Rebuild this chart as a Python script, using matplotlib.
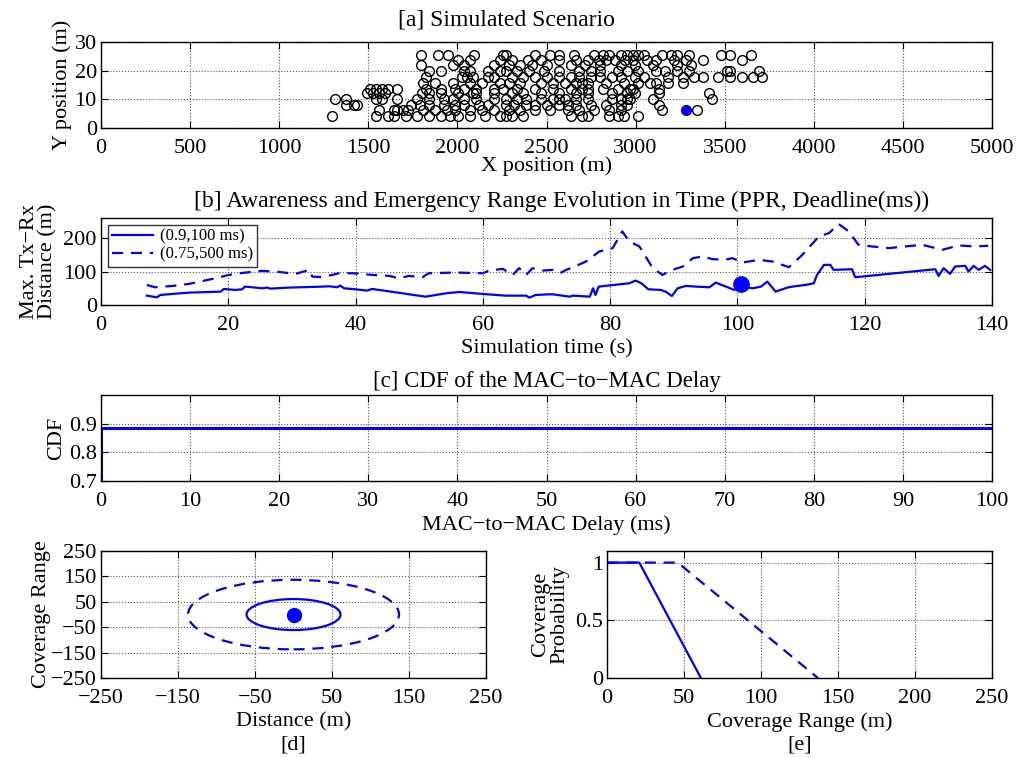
import matplotlib.pyplot as plt

plt.rcParams['font.family'] = ['Liberation Serif', 'DejaVu Serif']
plt.rcParams['font.size'] = 16
plt.rcParams['axes.linewidth'] = 1.0
plt.rcParams['xtick.direction'] = 'in'
plt.rcParams['ytick.direction'] = 'in'
plt.rcParams['xtick.top'] = True
plt.rcParams['ytick.right'] = True
plt.rcParams['xtick.major.size'] = 5
plt.rcParams['ytick.major.size'] = 5
plt.rcParams['xtick.major.pad'] = 8
plt.rcParams['ytick.major.pad'] = 3

BLUE = '#0000ff'

# [a] vehicle positions, one list of x per lane (y in m)
lane_y = [25.5, 23.6, 22.0, 19.8, 17.9, 15.6, 13.6, 12.1, 10.0, 8.2, 6.2, 4.1]
lane_x = [
    [1798, 1890, 1946, 2095, 2254, 2271, 2436, 2519, 2569, 2652, 2767, 2817, 2850,
     2916, 2949, 2983, 3016, 3049, 3148, 3198, 3231, 3297, 3479, 3529, 3645],
    [2006, 2072, 2238, 2304, 2397, 2469, 2569, 2668, 2734, 2794, 2834, 2883, 2939,
     2983, 3065, 3115, 3214, 3280, 3380, 3595],
    [1798, 1973, 2039, 2205, 2287, 2354, 2420, 2503, 2635, 2718, 2800, 2916, 2999,
     3098, 3231, 3313],
    [1840, 1906, 2039, 2072, 2172, 2238, 2271, 2337, 2403, 2486, 2569, 2685, 2751,
     2800, 2900, 2949, 3016, 3115, 3165, 3231, 3297, 3512, 3529, 3694],
    [1824, 2023, 2056, 2089, 2172, 2205, 2304, 2370, 2436, 2503, 2569, 2635, 2685,
     2751, 2800, 2867, 2916, 2999, 3049, 3181, 3264, 3330, 3380, 3462, 3529, 3595,
     3661, 3711],
    [1807, 1873, 1973, 2072, 2138, 2238, 2287, 2354, 2469, 2536, 2602, 2668, 2701,
     2734, 2834, 2933, 3016, 3082, 3115, 3181, 3264],
    [1510, 1543, 1576, 1609, 1659, 1824, 1906, 1989, 2039, 2105, 2205, 2254, 2337,
     2436, 2536, 2635, 2701, 2734, 2817, 2900, 2966, 2983, 3131],
    [1493, 1526, 1559, 1592, 1801, 1840, 1906, 2006, 2089, 2105, 2205, 2304, 2370,
     2469, 2569, 2668, 2734, 2867, 2949, 2999, 3131, 3413],
    [1311, 1377, 1543, 1576, 1659, 1774, 1840, 1923, 1973, 2039, 2105, 2205, 2271,
     2337, 2387, 2469, 2536, 2569, 2602, 2668, 2734, 2867, 2916, 2949, 2966, 3098,
     3430],
    [1377, 1417, 1437, 1741, 1791, 1840, 1923, 1989, 2039, 2122, 2172, 2271, 2320,
     2387, 2436, 2503, 2569, 2618, 2668, 2751, 2834, 2916, 2949, 3131],
    [1559, 1642, 1659, 1692, 1725, 1807, 1873, 1940, 1989, 2072, 2138, 2205, 2287,
     2354, 2436, 2519, 2618, 2685, 2767, 2850, 2916, 3148, 3347],
    [1294, 1543, 1609, 1642, 1709, 1775, 1840, 1906, 1956, 2006, 2072, 2155, 2238,
     2271, 2304, 2370, 2635, 2701, 2734, 2850, 2900, 2933, 3016],
]
tx_x, tx_y = 3280, 6.2

# [b] max Tx-Rx distance over time
t_09 = [7.2, 8.8, 9.3, 11.2, 13.8, 18.8, 19.3, 21.1, 22.2, 22.6, 24.3, 25.3, 26.1,
        26.6, 29.5, 34.8, 35.9, 37.1, 37.6, 38.2, 40.0, 41.8, 42.6, 43.7, 51.0, 52.6,
        54.2, 56.3, 60.0, 63.6, 66.8, 67.3, 68.3, 70.4, 71.0, 73.6, 74.2, 76.8, 77.3,
        77.7, 78.2, 83.0, 84.0, 84.9, 86.0, 88.0, 88.8, 89.7, 90.6, 91.9, 93.5, 95.6,
        96.6, 98.2, 99.5, 100.5, 102.4, 103.7, 104.7, 106.0, 108.0, 109.4, 110.7,
        112.0, 112.5, 113.6, 114.6, 115.1, 118.0, 118.5, 131.1, 131.6, 132.4, 133.4,
        134.2, 135.8, 136.3, 137.1, 137.9, 138.9, 139.7]
d_09 = [28, 23, 30, 33, 37, 40, 48, 45, 47, 55, 52, 50, 52,
        49, 52, 55, 56, 53, 58, 50, 47, 43, 48, 45, 25, 30,
        35, 39, 33, 28, 28, 22, 30, 32, 32, 25, 28, 25, 50,
        30, 55, 65, 73, 65, 47, 45, 39, 27, 50, 57, 55, 53,
        67, 55, 45, 55, 50, 55, 70, 40, 53, 57, 60,
        65, 90, 120, 120, 105, 107, 83, 107, 87, 110, 93,
        115, 117, 100, 117, 105, 117, 105]
t_075 = [7.2, 8.5, 11.2, 13.8, 18.0, 20.1, 22.7, 25.3, 27.4, 30.6, 32.7, 33.2, 34.8,
         37.4, 39.5, 42.6, 45.3, 46.8, 48.4, 50.5, 51.5, 55.7, 60.0, 61.0, 63.1, 64.7,
         65.7, 66.8, 67.8, 69.4, 71.0, 72.1, 73.1, 74.2, 76.2, 78.3, 80.4, 81.9, 83.0,
         84.6, 86.7, 88.2, 89.8, 91.4, 93.0, 94.5, 96.1, 98.0, 99.2, 100.8, 103.4,
         105.5, 108.1, 110.2, 112.8, 114.4, 115.9, 117.5, 119.0, 121.1, 123.8, 126.4,
         129.0, 132.2, 134.8, 137.3, 139.4]
d_075 = [60, 53, 57, 63, 80, 90, 97, 102, 100, 93, 105, 85, 83,
         95, 95, 90, 87, 80, 87, 83, 95, 97, 95, 103, 108, 90,
         110, 90, 110, 103, 105, 95, 105, 113, 130, 160, 170, 220, 190,
         175, 110, 90, 105, 115, 140, 145, 137, 135, 140, 127, 135,
         130, 113, 150, 205, 215, 242, 220, 180, 175, 170, 175,
         180, 165, 178, 175, 177]
t_dot, d_dot = 100.5, 62

# [c] CDF of MAC-to-MAC delay
delay_ms = [0, 0, 100]
cdf = [0.69, 0.886, 0.886]

# [d] coverage circles (radius in m) and [e] coverage probability
r_09, r_075 = 61, 137
range_09 = [0, 21, 61]
prob_09 = [1, 1, 0]
range_075 = [0, 46, 137]
prob_075 = [1, 1, 0]


def grid(ax):
    ax.grid(True, linestyle=':', color='#555555', linewidth=0.8)
    ax.set_axisbelow(True)


fig = plt.figure(figsize=(10.16, 7.58), dpi=100)

# [a]
ax = fig.add_axes([0.0994, 0.8311, 0.877, 0.1135])
for y, xs in zip(lane_y, lane_x):
    ax.plot(xs, [y] * len(xs), 'o', mfc='none', mec='black', ms=7, mew=1.0)
ax.plot([tx_x], [tx_y], 'o', color=BLUE, ms=7)
ax.set_xlim(0, 5000)
ax.set_ylim(0, 30)
ax.set_xticks(range(0, 5001, 500))
ax.set_yticks([0, 10, 20, 30])
grid(ax)
ax.set_title('[a] Simulated Scenario', fontsize=17, pad=12, x=0.455)
ax.set_xlabel('X position (m)', labelpad=-1)
ax.set_ylabel('Y position (m)', labelpad=2)

# [b]
ax = fig.add_axes([0.0994, 0.5976, 0.877, 0.1148])
ax.plot(t_09, d_09, '-', color=BLUE, lw=1.6, label='(0.9,100 ms)')
ax.plot(t_075, d_075, '--', color=BLUE, lw=1.6, dashes=(5, 3.5), label='(0.75,500 ms)')
ax.plot([t_dot], [d_dot], 'o', color=BLUE, ms=11)
ax.set_xlim(0, 140)
ax.set_ylim(0, 260)
ax.set_xticks(range(0, 141, 20))
ax.set_yticks([0, 100, 200])
grid(ax)
leg = ax.legend(loc='upper left', fontsize=12, handlelength=2.5, handletextpad=0.4,
                frameon=True, fancybox=False, edgecolor='black', borderaxespad=0.4,
                borderpad=0.25, labelspacing=0.1)
leg.get_frame().set_linewidth(1.0)
ax.set_title('[b] Awareness and Emergency Range Evolution in Time (PPR, Deadline(ms))',
             fontsize=17, pad=8, x=0.517)
ax.set_xlabel('Simulation time (s)', labelpad=3)
ax.set_ylabel('Max. Tx\u2212Rx\nDistance (m)', labelpad=4, linespacing=1.0)

# [c]
ax = fig.add_axes([0.0994, 0.3654, 0.877, 0.1135])
ax.plot(delay_ms, cdf, '-', color=BLUE, lw=2.2)
ax.set_xlim(0, 100)
ax.set_ylim(0.7, 1.0)
ax.set_xticks(range(0, 101, 10))
ax.set_yticks([0.7, 0.8, 0.9])
grid(ax)
ax.set_title('[c] CDF of the MAC\u2212to\u2212MAC Delay', fontsize=16.5, pad=6)
ax.set_xlabel('MAC\u2212to\u2212MAC Delay (ms)', labelpad=3)
ax.set_ylabel('CDF', labelpad=2)

# [d]
ax = fig.add_axes([0.0994, 0.1055, 0.379, 0.1675])
circ09 = plt.Circle((0, 0), r_09, fill=False, color=BLUE, lw=1.6)
circ075 = plt.Circle((0, 0), r_075, fill=False, color=BLUE, lw=1.6)
circ075.set_linestyle((0, (5, 3.5)))
ax.add_patch(circ09)
ax.add_patch(circ075)
ax.plot([0], [0], 'o', color=BLUE, ms=10)
ax.set_xlim(-250, 250)
ax.set_ylim(-250, 250)
ax.set_xticks([-250, -150, -50, 50, 150, 250])
ax.set_yticks([-250, -150, -50, 50, 150, 250])
grid(ax)
ax.set_xlabel('Distance (m)\n[d]', labelpad=3, linespacing=1.3)
ax.set_ylabel('Coverage Range', labelpad=0)

# [e]
ax = fig.add_axes([0.5974, 0.1055, 0.379, 0.1675])
ax.plot(range_09, prob_09, '-', color=BLUE, lw=1.6)
ax.plot(range_075, prob_075, '--', color=BLUE, lw=1.6, dashes=(5, 3.5))
ax.set_xlim(0, 250)
ax.set_ylim(0, 1.1)
ax.set_xticks([0, 50, 100, 150, 200, 250])
ax.set_yticks([0, 0.5, 1])
ax.set_yticklabels(['0', '0.5', '1'])
grid(ax)
ax.set_xlabel('Coverage Range (m)\n[e]', labelpad=3, linespacing=1.25)
ax.set_ylabel('Coverage\nProbability', labelpad=4, linespacing=1.0)

fig.savefig('out.png', dpi=100)
